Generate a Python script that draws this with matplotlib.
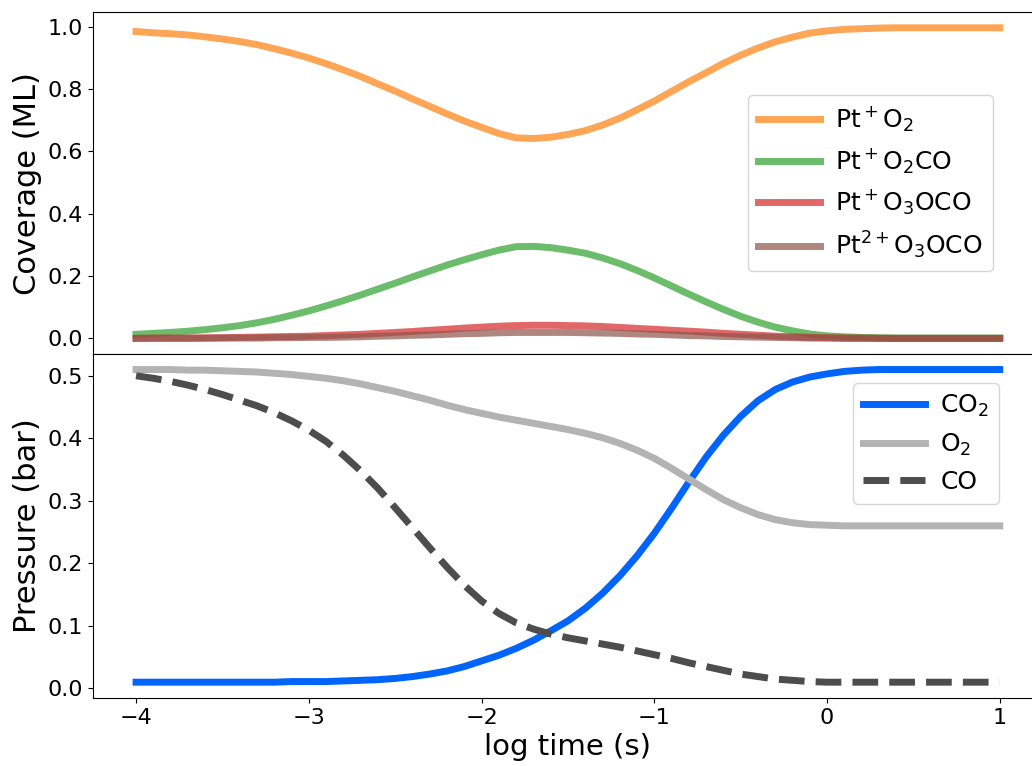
import numpy as np
import matplotlib
matplotlib.use("Agg")
import matplotlib.pyplot as plt

# log time grid the values were read on (-4 to 1, step 0.1)
log_t = np.linspace(-4, 1, 51)

# coverages (ML)
pt_o2 = [0.984, 0.980, 0.977, 0.973, 0.967, 0.960, 0.952, 0.942, 0.929, 0.915,
         0.899, 0.881, 0.861, 0.840, 0.816, 0.793, 0.768, 0.744, 0.720, 0.697,
         0.677, 0.657, 0.643, 0.641, 0.645, 0.654, 0.666, 0.684, 0.706, 0.733,
         0.761, 0.792, 0.823, 0.852, 0.882, 0.908, 0.931, 0.951, 0.966, 0.979,
         0.986, 0.991, 0.993, 0.995, 0.996, 0.996, 0.996, 0.996, 0.996, 0.996,
         0.996]
pt_o2co = [0.013, 0.016, 0.019, 0.023, 0.028, 0.034, 0.041, 0.050, 0.061, 0.074,
           0.088, 0.104, 0.121, 0.139, 0.158, 0.177, 0.197, 0.216, 0.235, 0.252,
           0.268, 0.283, 0.294, 0.295, 0.291, 0.283, 0.273, 0.258, 0.240, 0.218,
           0.194, 0.168, 0.142, 0.117, 0.093, 0.071, 0.052, 0.036, 0.024, 0.014,
           0.008, 0.005, 0.003, 0.002, 0.001, 0.001, 0.001, 0.001, 0.001, 0.001,
           0.001]
pt_o3oco = [0.000, 0.001, 0.001, 0.001, 0.002, 0.002, 0.003, 0.004, 0.005, 0.006,
            0.007, 0.009, 0.011, 0.013, 0.016, 0.019, 0.022, 0.026, 0.029, 0.033,
            0.036, 0.039, 0.041, 0.042, 0.042, 0.041, 0.040, 0.038, 0.035, 0.032,
            0.029, 0.026, 0.023, 0.020, 0.016, 0.013, 0.010, 0.007, 0.005, 0.003,
            0.002, 0.001, 0.001, 0.0, 0.0, 0.0, 0.0, 0.0, 0.0, 0.0,
            0.0]
pt2_o3oco = [0.0, 0.0, 0.0, 0.0, 0.0, 0.001, 0.001, 0.001, 0.002, 0.002,
             0.003, 0.003, 0.004, 0.005, 0.007, 0.008, 0.010, 0.011, 0.013, 0.015,
             0.016, 0.018, 0.019, 0.019, 0.019, 0.019, 0.018, 0.017, 0.016, 0.014,
             0.013, 0.011, 0.009, 0.008, 0.006, 0.005, 0.004, 0.003, 0.002, 0.001,
             0.001, 0.0, 0.0, 0.0, 0.0, 0.0, 0.0, 0.0, 0.0, 0.0,
             0.0]

# pressures (bar)
p_co2 = [0.010, 0.010, 0.010, 0.010, 0.010, 0.010, 0.010, 0.010, 0.010, 0.011,
         0.011, 0.011, 0.012, 0.013, 0.014, 0.016, 0.019, 0.023, 0.028, 0.035,
         0.044, 0.053, 0.064, 0.077, 0.092, 0.108, 0.128, 0.152, 0.180, 0.212,
         0.248, 0.288, 0.330, 0.370, 0.405, 0.435, 0.460, 0.478, 0.490, 0.498,
         0.503, 0.507, 0.509, 0.510, 0.510, 0.510, 0.510, 0.510, 0.510, 0.510,
         0.510]
p_o2 = [0.510, 0.510, 0.510, 0.509, 0.509, 0.508, 0.507, 0.506, 0.504, 0.502,
        0.499, 0.496, 0.492, 0.487, 0.481, 0.475, 0.468, 0.461, 0.453, 0.446,
        0.440, 0.434, 0.429, 0.424, 0.419, 0.414, 0.408, 0.401, 0.392, 0.381,
        0.368, 0.352, 0.335, 0.318, 0.302, 0.289, 0.278, 0.270, 0.265, 0.262,
        0.261, 0.260, 0.260, 0.260, 0.260, 0.260, 0.260, 0.260, 0.260, 0.260,
        0.260]
p_co = [0.500, 0.496, 0.491, 0.485, 0.478, 0.470, 0.461, 0.452, 0.441, 0.428,
        0.413, 0.395, 0.373, 0.348, 0.320, 0.289, 0.257, 0.225, 0.194, 0.165,
        0.140, 0.120, 0.105, 0.095, 0.087, 0.081, 0.076, 0.071, 0.066, 0.060,
        0.054, 0.048, 0.041, 0.035, 0.029, 0.023, 0.019, 0.015, 0.013, 0.011,
        0.010, 0.010, 0.010, 0.010, 0.010, 0.010, 0.010, 0.010, 0.010, 0.010,
        0.010]

cov_labels = [r'Pt$^+$O$_2$', r'Pt$^+$O$_2$CO', r'Pt$^+$O$_3$OCO', r'Pt$^{2+}$O$_3$OCO']
cov_colors = ['tab:orange', 'tab:green', 'tab:red', 'tab:brown']

lw = 5

fig = plt.figure(figsize=(10.32, 7.66), dpi=100)
# right edge goes past the figure, the original was cropped there
ax1 = fig.add_axes([0.090, 0.538, 0.9206, 0.446])
ax2 = fig.add_axes([0.090, 0.089, 0.9206, 0.449], sharex=ax1)

for y, lab, c in zip([pt_o2, pt_o2co, pt_o3oco, pt2_o3oco], cov_labels, cov_colors):
    ax1.plot(log_t, y, color=c, alpha=0.7, lw=lw, label=lab)

ax2.plot(log_t, p_co2, color='#0165fc', lw=lw, label=r'CO$_2$')
ax2.plot(log_t, p_o2, color='0.7', lw=lw, label=r'O$_2$')
ax2.plot(log_t, p_co, color='0.3', lw=lw, ls='--', label='CO')

ax1.set_ylabel('Coverage (ML)', fontsize=22)
ax2.set_ylabel('Pressure (bar)', fontsize=22)
ax2.set_xlabel('log time (s)', fontsize=21)
ax1.tick_params(labelbottom=False, labelsize=16)
ax2.tick_params(labelsize=16)
ax2.set_xticks([-4, -3, -2, -1, 0, 1])

ax1.legend(loc='center right', bbox_to_anchor=(0.947, 0.5), borderaxespad=0,
           fontsize=18, handlelength=2.5, handletextpad=0.6)
ax2.legend(loc='upper right', bbox_to_anchor=(0.954, 0.916), borderaxespad=0,
           fontsize=18, handlelength=2.5, handletextpad=0.6)

fig.savefig('out.png', dpi=100)
